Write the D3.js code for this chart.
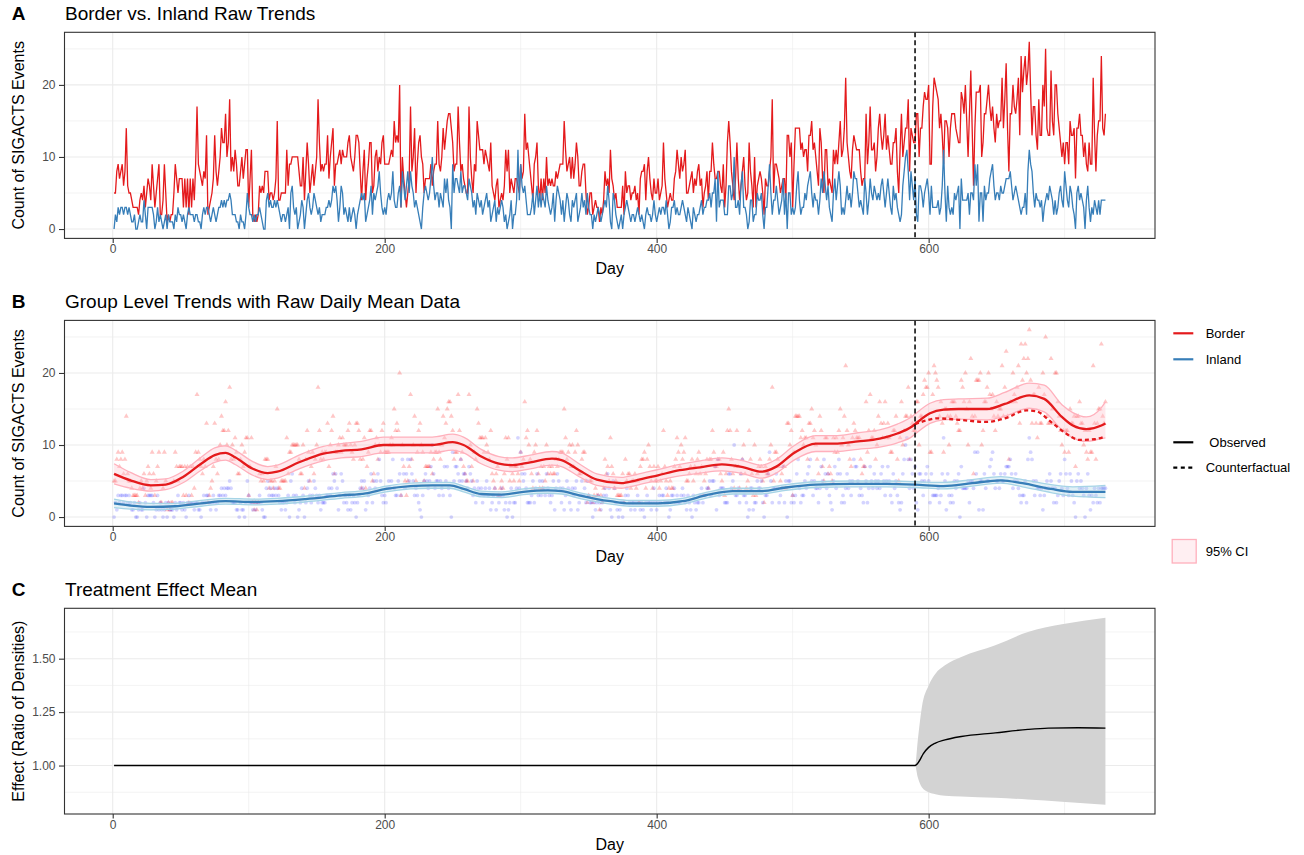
<!DOCTYPE html>
<html>
<head>
<meta charset="utf-8">
<script src="https://cdnjs.cloudflare.com/ajax/libs/d3/7.8.5/d3.min.js"></script>
<style>
body { margin: 0; background: #fff; }
svg { display: block; font-family: "Liberation Sans", Arial, Helvetica, sans-serif; }
</style>
</head>
<body>
<svg id="chart" width="1304" height="855"></svg>
<script>
// daily counts, day 1..730
var border = [
5,5,8,9,7,8,9,6,8,14, 6,5,5,4,3,3,3,3,2,4, 5,4,6,3,5,7,6,4,9,6, 3,5,7,9,2,2,4,9,5,1,
2,1,2,2,5,9,7,5,7,7, 7,3,7,3,7,2,7,3,7,4, 9,17,9,8,7,6,8,7,13,2, 3,4,5,7,13,8,6,8,10,14,
12,12,16,10,12,18,8,10,8,11, 9,6,6,8,10,7,9,11,11,3, 7,11,2,1,2,1,2,6,5,6, 5,8,8,8,4,5,5,4,5,7,
15,4,4,5,5,5,5,11,6,9, 9,10,10,10,10,10,8,6,6,10, 4,8,12,9,5,7,
9,6,8,10,18,12,8,9,8,9, 9,13,7,10,12,14,6,9,9,10, 11,9,11,10,10,10,12,13,10,9, 8,10,13,13,12,8,4,8,11,4,
7,9,12,12,5,6,10,11,8,10, 9,12,13,9,9,9,9,10,11,10, 15,12,13,12,20,3,10,7,5,3, 5,7,17,8,10,14,5,9,12,13,
10,9,5,7,7,7,7,9,6,8, 9,9,15,9,8,10,14,11,13,15, 16,16,14,12,8,9,9,17,12,8, 9,7,6,5,5,17,10,7,5,9,
8,15,13,11,11,11,9,11,10,9, 8,12,6,5,4,6,7,3,4,5, 4,6,11,8,11,5,7,
6,5,7,7,6,5,9,7,8,16, 11,12,10,8,6,4,9,10,12,6, 4,7,4,7,5,10,6,7,6,7, 6,6,8,7,8,9,9,9,15,11,
8,9,10,7,10,7,9,12,10,6, 6,8,9,9,5,2,3,5,5,2, 3,4,3,3,1,3,2,4,8,6, 7,5,11,7,6,4,5,3,3,3,
3,6,2,8,5,6,6,4,5,5, 6,4,5,2,7,8,8,9,4,8, 10,7,5,4,7,5,5,7,4,5, 6,12,7,5,3,4,5,4,4,7,
8,11,9,7,10,8,9,11,5,5, 6,7,8,5,7,6,8,9,6,7, 3,5,6,8,4,8,8,
12,9,7,7,8,8,6,5,9,3, 6,12,15,12,8,6,4,7,12,7, 4,6,8,10,6,4,5,12,8,6, 3,10,3,6,7,8,7,5,2,7,
6,6,8,10,18,5,9,9,8,7, 5,6,7,7,4,13,13,10,12,3, 9,14,14,14,14,11,12,10,11,11, 8,13,13,15,11,12,10,8,6,14,
12,7,5,11,11,6,7,6,5,11, 9,11,9,12,15,10,11,14,21,12, 10,8,7,11,13,12,11,11,11,8, 6,7,7,16,9,12,17,11,11,12,
8,10,14,16,13,11,13,16,11,13, 11,9,9,12,12,14,8,5,11,16, 10,12,14,14,18,8,14,
13,12,12,16,16,10,14,14,17,19, 18,18,20,9,9,17,21,20,19,18, 14,16,13,9,15,15,14,10,14,16, 16,16,14,13,12,12,19,18,16,20,
15,10,16,22,14,6,14,19,19,19, 20,10,12,16,16,18,20,17,15,17, 14,12,16,14,15,15,21,14,18,23, 14,8,16,16,20,17,16,18,21,13,
24,19,22,24,20,22,26,19,13,17, 17,13,11,18,13,13,20,17,25,14, 13,13,22,15,13,20,20,16,14,12, 10,12,9,12,12,9,15,13,13,14,
7,14,14,16,13,13,10,12,9,8, 12,9,9,21,13,8,13,15,15,24, 14,13,16
];
var inland = [
0,2,1,3,2,3,3,2,3,3, 2,3,2,1,1,2,0,0,1,2, 1,1,4,2,0,3,3,3,3,2, 0,1,3,1,2,1,0,1,2,0,
2,1,1,1,0,2,1,3,2,2, 1,2,1,0,2,3,2,2,2,1, 2,2,1,1,0,2,3,2,3,3, 2,1,2,3,2,1,2,3,3,4,
3,4,3,4,4,5,4,2,2,2, 1,1,0,2,1,1,0,2,5,3, 2,2,1,2,1,2,2,3,2,1, 0,0,4,5,3,4,3,3,4,3,
4,3,2,1,2,2,1,2,3,0, 5,6,3,2,3,0,1,2,4,3, 0,2,4,5,3,2,
3,5,4,3,2,3,1,2,2,2, 3,3,4,3,4,6,5,6,4,1, 3,6,5,2,3,2,1,3,1,2, 3,2,0,2,3,4,5,4,5,1,
2,3,4,6,2,5,4,5,6,8, 5,3,2,3,2,4,5,4,5,8, 4,3,3,5,6,3,8,6,4,6, 8,5,8,6,5,3,4,3,2,1,
0,3,5,6,5,4,5,7,10,6, 4,5,5,3,5,4,3,7,5,7, 4,3,0,9,5,7,7,6,5,8, 5,6,6,5,4,7,6,5,3,4,
2,5,4,3,4,2,3,4,5,3, 4,1,2,3,4,1,3,2,3,4, 3,1,2,0,1,2,4,
0,2,2,4,11,4,9,6,5,6, 4,2,2,2,3,5,2,4,6,3, 5,3,5,4,3,6,4,3,2,3, 5,1,4,6,5,4,2,4,1,3,
5,4,2,1,4,3,4,5,1,2, 3,5,3,4,2,5,3,2,2,0, 2,1,2,3,2,1,2,3,4,3, 6,4,1,0,5,4,2,1,0,1,
2,0,2,3,4,3,2,1,2,2, 1,2,3,2,1,2,1,0,2,3, 2,2,1,2,4,2,1,2,3,2, 3,3,2,4,2,0,1,3,3,4,
2,3,2,2,3,4,3,2,1,3, 2,1,0,3,2,1,2,2,3,4, 2,3,3,4,4,5,3,
5,5,7,1,8,3,4,4,4,2, 2,2,6,6,4,5,10,3,3,4, 2,6,8,3,3,2,0,1,4,4, 1,2,2,5,4,4,5,2,0,3,
3,6,9,5,2,4,4,6,4,2, 3,4,7,2,5,0,5,5,2,3, 2,3,6,8,4,2,3,3,5,4, 6,7,8,5,3,5,4,4,2,4,
7,5,8,6,4,6,3,2,1,5, 7,4,6,8,6,2,3,2,4,6, 4,5,3,5,8,7,7,5,3,4, 3,2,7,5,2,4,7,5,4,6,
5,4,5,4,6,7,5,3,5,7, 5,3,2,6,4,5,3,2,1,2, 6,8,10,11,8,4,8,
6,4,7,2,1,6,6,5,3,5, 6,7,5,2,6,3,3,3,3,4, 2,3,6,11,5,1,6,3,2,3, 2,5,4,5,6,0,7,4,4,4,
4,5,2,5,5,4,9,6,9,1, 5,5,1,6,4,5,5,7,8,9, 6,4,5,5,4,6,5,5,6,7, 7,7,8,6,4,5,6,5,4,3,
2,3,3,5,2,8,11,9,8,5, 3,5,4,4,3,4,1,3,4,5, 4,6,5,4,2,4,2,3,5,6, 4,3,8,6,4,3,6,5,3,2,
0,5,6,4,5,4,3,0,4,6, 3,1,3,2,4,3,2,4,2,4, 4,4,4
];

// group level trends (panel B)
var borderDays = [1,13,28,39,52,65,75,83,90,103,114,121,137,155,168,183,199,219,235,250,258,271,284,294,307,323,330,343,356,374,385,401,417,432,448,464,477,488,501,517,533,548,564,577,588,590,601,611,622,643,656,674,685,698,706,716,727,730];
var borderTrend = [6.0,5.1,4.4,4.5,5.6,7.4,8.6,8.9,8.3,6.7,6.1,6.3,7.6,8.8,9.2,9.4,10.0,10.0,10.0,10.4,10.0,8.4,7.4,7.2,7.6,8.1,7.9,6.5,5.2,4.7,5.1,5.8,6.5,6.9,7.3,6.9,6.3,7.0,8.9,10.2,10.2,10.5,10.9,11.6,12.6,12.9,14.4,14.9,15.0,15.0,15.7,16.9,16.4,13.9,12.7,12.2,12.7,13.0];
var borderLo = [4.6,4.0,3.6,3.8,4.8,6.5,7.6,7.9,7.3,5.8,5.2,5.4,6.7,7.8,8.2,8.4,8.9,8.9,8.9,9.3,8.9,7.4,6.5,6.3,6.7,7.2,7.0,5.6,4.4,4.0,4.4,5.1,5.7,6.1,6.4,6.0,5.4,6.1,7.9,9.1,9.1,9.4,9.7,10.3,11.2,11.5,13.0,13.5,13.6,13.5,14.0,15.1,14.6,12.1,11.0,10.5,10.9,11.0];
var borderHi = [7.4,6.2,5.2,5.3,6.4,8.3,9.6,9.9,9.3,7.7,7.0,7.2,8.6,9.8,10.2,10.5,11.1,11.1,11.1,11.5,11.1,9.4,8.4,8.2,8.6,9.1,8.9,7.4,6.0,5.5,5.9,6.6,7.3,7.8,8.2,7.8,7.2,8.0,9.9,11.3,11.3,11.7,12.1,12.9,14.0,14.3,15.8,16.3,16.4,16.5,17.3,18.6,18.3,15.6,14.5,13.9,15.2,16.0];
var cfDays = [590,598,606,622,643,656,672,679,690,701,711,722,730];
var cfTrend = [12.9,13.4,13.7,13.5,13.2,13.7,14.8,14.7,13.2,11.6,10.7,10.8,11.2];
var inlandDays = [1,13,28,46,65,83,103,121,142,168,186,201,219,235,248,258,271,286,302,320,330,343,356,366,380,401,419,438,456,477,495,517,543,569,590,611,632,653,669,690,706,730];
var inlandTrend = [1.9,1.6,1.4,1.5,1.9,2.2,2.1,2.2,2.5,3.0,3.3,3.9,4.3,4.4,4.4,3.9,3.2,3.1,3.5,3.7,3.6,3.0,2.5,2.2,1.9,1.9,2.2,3.1,3.6,3.6,4.1,4.5,4.6,4.6,4.5,4.3,4.7,5.1,4.7,3.9,3.5,3.5];
var inlandLo = [1.3,1.1,1.0,1.1,1.5,1.8,1.7,1.8,2.1,2.6,2.9,3.5,3.9,4.0,4.0,3.5,2.8,2.7,3.1,3.3,3.2,2.6,2.1,1.8,1.5,1.5,1.8,2.7,3.2,3.2,3.7,4.1,4.2,4.2,4.1,3.9,4.3,4.7,4.2,3.4,2.9,2.7];
var inlandHi = [2.5,2.1,1.9,1.9,2.3,2.6,2.5,2.6,2.9,3.4,3.7,4.3,4.7,4.8,4.8,4.3,3.6,3.5,3.9,4.1,4.0,3.4,2.9,2.6,2.3,2.3,2.6,3.5,4.0,4.0,4.5,4.9,5.0,5.0,4.9,4.8,5.2,5.6,5.2,4.5,4.2,4.4];

// treatment effect (panel C)
var effectDays = [1,590,593,596,600,605,612,624,649,673,688,710,730];
var effect = [1,1,1.02,1.055,1.085,1.105,1.12,1.136,1.153,1.169,1.175,1.177,1.175];
var ciDays = [1,590,592,595,600,605,612,624,649,673,698,730];
var ciLo = [1,1,0.945,0.898,0.875,0.866,0.859,0.855,0.849,0.841,0.831,0.817];
var ciHi = [1,1,1.117,1.273,1.375,1.43,1.469,1.508,1.563,1.625,1.661,1.692];

var treatDay = 590;
var xTicks = [0, 200, 400, 600];
var xMinor = [100, 300, 500, 700];
var countTicks = [0, 10, 20];
var countMinor = [5, 15, 25];
var effectTicks = [1.00, 1.25, 1.50];
var effectMinor = [0.875, 1.125, 1.375, 1.625];

var red = '#E41A1C', blue = '#377EB8';
var left = 64.5, right = 1155;
var svg = d3.select('#chart');

function expand(ext) {
	var pad = (ext[1] - ext[0]) * 0.05;
	return [ext[0] - pad, ext[1] + pad];
}

var days = border.map(function(d, i) { return i + 1; });
var x = d3.scaleLinear().domain(expand(d3.extent(days))).range([left, right]);

function drawPanel(p) {
	var y = d3.scaleLinear().domain(p.domain).range([p.bottom, p.top]);
	var g = svg.append('g');
	var grid = g.append('g');
	p.yMinor.forEach(function(v) {
		grid.append('line').attr('x1', left).attr('x2', right).attr('y1', y(v)).attr('y2', y(v))
			.attr('stroke', '#EBEBEB').attr('stroke-width', 0.6);
	});
	xMinor.forEach(function(v) {
		grid.append('line').attr('x1', x(v)).attr('x2', x(v)).attr('y1', p.top).attr('y2', p.bottom)
			.attr('stroke', '#EBEBEB').attr('stroke-width', 0.6);
	});
	p.yTicks.forEach(function(v) {
		grid.append('line').attr('x1', left).attr('x2', right).attr('y1', y(v)).attr('y2', y(v))
			.attr('stroke', '#EBEBEB').attr('stroke-width', 1.1);
	});
	xTicks.forEach(function(v) {
		grid.append('line').attr('x1', x(v)).attr('x2', x(v)).attr('y1', p.top).attr('y2', p.bottom)
			.attr('stroke', '#EBEBEB').attr('stroke-width', 1.1);
	});
	var data = g.append('g');

	// axes
	var ax = g.append('g').attr('transform', 'translate(0,' + p.bottom + ')')
		.call(d3.axisBottom(x).tickValues(xTicks).tickSize(4.5).tickPadding(1.5));
	var ay = g.append('g').attr('transform', 'translate(' + left + ',0)')
		.call(d3.axisLeft(y).tickValues(p.yTicks).tickSize(5.5).tickPadding(3.5).tickFormat(p.fmt));
	[ax, ay].forEach(function(a) {
		a.select('.domain').remove();
		a.selectAll('line').attr('stroke', '#333333').attr('stroke-width', 1.1);
		a.selectAll('text').attr('fill', '#4D4D4D').style('font-size', '12px')
			.style('font-family', '"Liberation Sans", Arial, sans-serif');
	});

	g.append('text').attr('x', 11.7).attr('y', p.top - 12.3).text(p.letter)
		.style('font-size', '19px').style('font-weight', 'bold');
	g.append('text').attr('x', 65).attr('y', p.top - 12.3).text(p.title).style('font-size', '19px');
	g.append('text').attr('x', (left + right) / 2).attr('y', p.bottom + 35.5).attr('text-anchor', 'middle')
		.text('Day').style('font-size', '16px');
	g.append('text').attr('transform', 'translate(18,' + (p.top + p.bottom) / 2 + ') rotate(-90)')
		.attr('text-anchor', 'middle').attr('dominant-baseline', 'central').text(p.ylabel).style('font-size', '16px');

	return {g: data, y: y, frame: function() {
		g.append('rect').attr('x', left).attr('y', p.top).attr('width', right - left).attr('height', p.bottom - p.top)
			.attr('fill', 'none').attr('stroke', '#333333').attr('stroke-width', 1.1);
	}};
}

function vline(panel, top, bottom) {
	panel.g.append('line').attr('x1', x(treatDay)).attr('x2', x(treatDay)).attr('y1', top).attr('y2', bottom)
		.attr('stroke', '#000').attr('stroke-width', 1.5).attr('stroke-dasharray', '5,3');
}

var countDomain = expand([0, d3.max(border.concat(inland))]);

// Panel A
var A = drawPanel({top: 32.3, bottom: 238.4, domain: countDomain, yTicks: countTicks, yMinor: countMinor,
	fmt: d3.format('d'), letter: 'A', title: 'Border vs. Inland Raw Trends', ylabel: 'Count of SIGACTS Events'});
var lineA = d3.line().x(function(d, i) { return x(i + 1); }).y(function(d) { return A.y(d); });
A.g.append('path').attr('d', lineA(border)).attr('fill', 'none').attr('stroke', red).attr('stroke-width', 1.3);
A.g.append('path').attr('d', lineA(inland)).attr('fill', 'none').attr('stroke', blue).attr('stroke-width', 1.3);
vline(A, 32.3, 238.4);
A.frame();

// Panel B
var B = drawPanel({top: 320.4, bottom: 526.4, domain: countDomain, yTicks: countTicks, yMinor: countMinor,
	fmt: d3.format('d'), letter: 'B', title: 'Group Level Trends with Raw Daily Mean Data', ylabel: 'Count of SIGACTS Events'});
var tri = d3.symbol().type(d3.symbolTriangle).size(11)();
B.g.selectAll('path.pb').data(border).enter().append('path').attr('class', 'pb').attr('d', tri)
	.attr('transform', function(d, i) { return 'translate(' + x(i + 1) + ',' + B.y(d) + ')'; })
	.attr('fill', 'red').attr('fill-opacity', 0.22);
B.g.selectAll('circle.pi').data(inland).enter().append('circle').attr('class', 'pi')
	.attr('cx', function(d, i) { return x(i + 1); }).attr('cy', function(d) { return B.y(d); }).attr('r', 1.9)
	.attr('fill', 'blue').attr('fill-opacity', 0.17);

function ribbon(dayArr, lo, hi, fill, edge) {
	var area = d3.area().curve(d3.curveMonotoneX).x(function(d, i) { return x(dayArr[i]); })
		.y0(function(d, i) { return B.y(lo[i]); }).y1(function(d, i) { return B.y(hi[i]); });
	var edgeLine = d3.line().curve(d3.curveMonotoneX).x(function(d, i) { return x(dayArr[i]); }).y(function(d) { return B.y(d); });
	B.g.append('path').attr('d', area(dayArr)).attr('fill', fill).attr('fill-opacity', 0.35);
	B.g.append('path').attr('d', edgeLine(lo)).attr('fill', 'none').attr('stroke', edge).attr('stroke-width', 1.3);
	B.g.append('path').attr('d', edgeLine(hi)).attr('fill', 'none').attr('stroke', edge).attr('stroke-width', 1.3);
}
function trend(dayArr, vals, color, dash) {
	var l = d3.line().curve(d3.curveMonotoneX).x(function(d, i) { return x(dayArr[i]); }).y(function(d) { return B.y(d); });
	B.g.append('path').attr('d', l(vals)).attr('fill', 'none').attr('stroke', color).attr('stroke-width', 2.3)
		.attr('stroke-dasharray', dash ? '4,3' : null);
}
ribbon(borderDays, borderLo, borderHi, '#FFC0CB', '#FFB0BC');
ribbon(inlandDays, inlandLo, inlandHi, '#ADD8E6', '#A6D4E6');
trend(borderDays, borderTrend, red, false);
trend(cfDays, cfTrend, red, true);
trend(inlandDays, inlandTrend, blue, false);
vline(B, 320.4, 526.4);
B.frame();

// legend
var lg = svg.append('g').style('font-size', '13px');
[[red, 'Border', 333.3], [blue, 'Inland', 359.3]].forEach(function(k) {
	lg.append('line').attr('x1', 1173.3).attr('x2', 1193.3).attr('y1', k[2]).attr('y2', k[2]).attr('stroke', k[0]).attr('stroke-width', 2.2);
	lg.append('text').attr('x', 1205.7).attr('y', k[2]).attr('dominant-baseline', 'central').text(k[1]);
});
lg.append('line').attr('x1', 1173.3).attr('x2', 1193.3).attr('y1', 442.3).attr('y2', 442.3).attr('stroke', '#000').attr('stroke-width', 2.2);
lg.append('text').attr('x', 1209.3).attr('y', 442.3).attr('dominant-baseline', 'central').text('Observed');
lg.append('line').attr('x1', 1173.3).attr('x2', 1195).attr('y1', 467.7).attr('y2', 467.7).attr('stroke', '#000').attr('stroke-width', 2.2)
	.attr('stroke-dasharray', '4,3.5');
lg.append('text').attr('x', 1205.7).attr('y', 467.7).attr('dominant-baseline', 'central').text('Counterfactual');
lg.append('rect').attr('x', 1172.2).attr('y', 539.5).attr('width', 24).attr('height', 23.5)
	.attr('fill', '#FFC0CB').attr('fill-opacity', 0.25).attr('stroke', '#FFB0BC').attr('stroke-width', 1.3);
lg.append('text').attr('x', 1205.7).attr('y', 551.5).attr('dominant-baseline', 'central').text('95% CI');

// Panel C
var C = drawPanel({top: 608.3, bottom: 814, domain: expand([d3.min(ciLo), d3.max(ciHi)]), yTicks: effectTicks,
	yMinor: effectMinor, fmt: d3.format('.2f'), letter: 'C', title: 'Treatment Effect Mean', ylabel: 'Effect (Ratio of Densities)'});
var ciArea = d3.area().curve(d3.curveMonotoneX).x(function(d, i) { return x(ciDays[i]); })
	.y0(function(d, i) { return C.y(ciLo[i]); }).y1(function(d, i) { return C.y(ciHi[i]); });
C.g.append('path').attr('d', ciArea(ciDays)).attr('fill', '#D3D3D3');
var effLine = d3.line().curve(d3.curveMonotoneX).x(function(d, i) { return x(effectDays[i]); }).y(function(d) { return C.y(d); });
C.g.append('path').attr('d', effLine(effect)).attr('fill', 'none').attr('stroke', '#000').attr('stroke-width', 1.4);
C.frame();
</script>
</body>
</html>
